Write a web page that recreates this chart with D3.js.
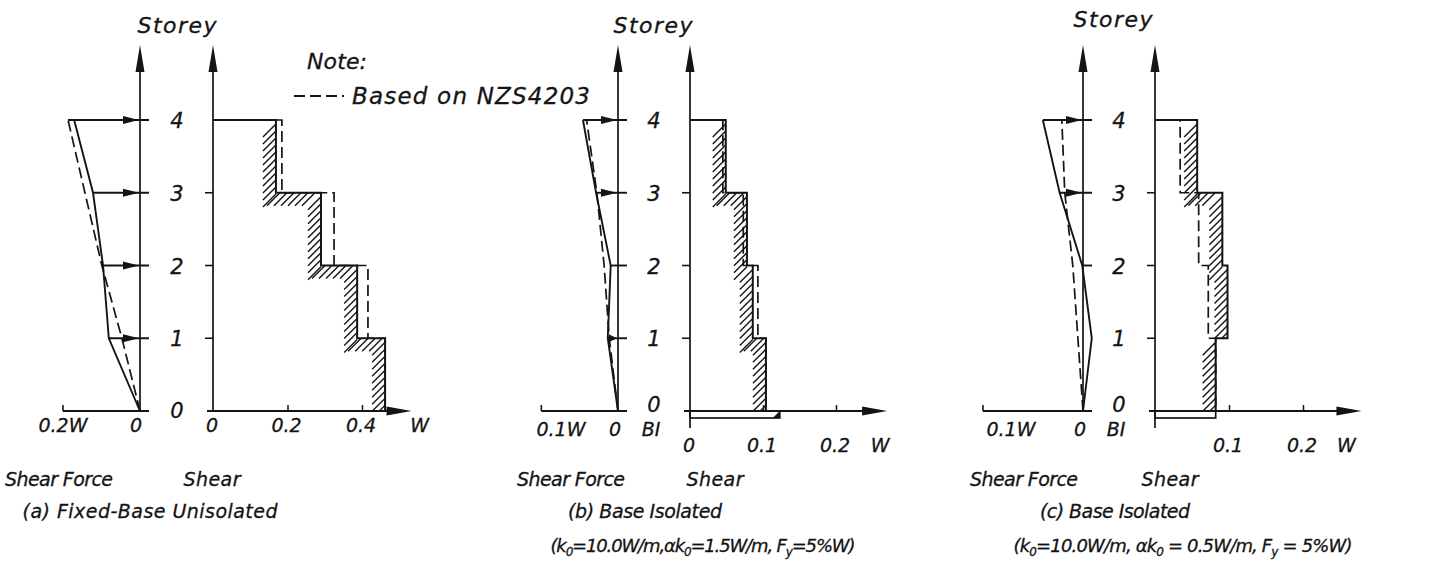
<!DOCTYPE html>
<html><head><meta charset="utf-8">
<script src="https://cdn.jsdelivr.net/npm/d3@7"></script>
<style>
html,body{margin:0;padding:0;background:#fff;}
svg text{font-family:"DejaVu Sans",sans-serif;font-style:italic;fill:#141414;stroke:#141414;stroke-width:0.3;}
</style></head><body>
<svg id="chart" width="1442" height="564"></svg>
<script>
// Storey levels (0 = base)
const storeys = [0, 1, 2, 3, 4];

// Lateral storey forces, fraction of W, at storeys 0..4
const forceFixed      = [0, 0.081, 0.096, 0.122, 0.171];
const forceFixedCode  = [0, 0.047, 0.099, 0.143, 0.187];
const forceIsoA       = [0, 0.014, 0.010, 0.030, 0.048];
const forceIsoACode   = [0, 0.012, 0.019, 0.029, 0.043];
const forceIsoB       = [0, -0.012, 0.001, 0.032, 0.055];
const forceIsoBCode   = [0, 0.007, 0.014, 0.025, 0.029];

// Storey shears, fraction of W, for storeys 1..4
const shearFixed      = [0.462, 0.387, 0.290, 0.169];
const shearFixedCode  = [0.462, 0.416, 0.325, 0.185];
const shearIsoA       = [0.104, 0.086, 0.078, 0.049];
const shearIsoACode   = [0.104, 0.093, 0.073, 0.045];
const shearIsoB       = [0.082, 0.098, 0.091, 0.057];
const shearIsoBCode   = [0.082, 0.072, 0.059, 0.034];

// Base isolator shear, fraction of W
const baseShear = [null, 0.123, 0.082];

// Axis tick values and labels
const forceTicks = [[0.2, 0], [0.1, 0], [0.1, 0]];
const forceTickLabels = [["0.2W", "0"], ["0.1W", "0"], ["0.1W", "0"]];
const shearTicks = [[0, 0.2, 0.4], [0, 0.1, 0.2], [0.1, 0.2]];
const shearTickLabels = [["0", "0.2", "0.4"], ["0", "0.1", "0.2"], ["0.1", "0.2"]];

// Captions
const panelTitles = ["(a) Fixed-Base Unisolated", "(b) Base Isolated", "(c) Base Isolated"];

const svg = d3.select("#chart");
const INK = "#141414";
const LW = 1.9;
const y = d3.scaleLinear().domain([0, 4]).range([411, 120]);

const panels = [
  { f: forceFixed, fc: forceFixedCode, s: shearFixed, sc: shearFixedCode, base: null,
    fAxis: 140, fRange: [0, 0.2], fPx: 77, fMax: 0.2,
    sAxis: 213, sDom: [0, 0.4], sPx: 149, sMax: 0.533, wDx: 8,
    tickY: 432, sTickY: 432, midX: 177, storeyY0: 418, storeyX: 177, storeyTop: 33,
    forceLabelX: [63, 136],
    sfX: 59, shX: 212, ttX: 150, ttLen: 255 },
  { f: forceIsoA, fc: forceIsoACode, s: shearIsoA, sc: shearIsoACode, base: baseShear[1],
    fAxis: 618, fRange: [0, 0.1], fPx: 73, fMax: 0.105,
    sAxis: 690, sDom: [0, 0.2], sPx: 146, sMax: 0.27, wDx: -7,
    tickY: 436, sTickY: 452, midX: 654, storeyY0: 412, storeyX: 653, storeyTop: 33,
    forceLabelX: [561, 615],
    sfX: 571, shX: 715, ttX: 645, ttLen: 154 },
  { f: forceIsoB, fc: forceIsoBCode, s: shearIsoB, sc: shearIsoBCode, base: baseShear[2],
    fAxis: 1083, fRange: [0, 0.1], fPx: 73, fMax: 0.137,
    sAxis: 1155, sDom: [0, 0.2], sPx: 148, sMax: 0.279, wDx: -15,
    tickY: 436, sTickY: 452, midX: 1119, storeyY0: 412, storeyX: 1113, storeyTop: 27,
    forceLabelX: [1011, 1080],
    sfX: 1024, shX: 1170, ttX: 1115, ttLen: 150 }
];

function arrowUp(g, x, yTip) {
  g.append("path").attr("d", `M${x},${yTip} L${x - 4.5},${yTip + 27} L${x + 4.5},${yTip + 27} Z`)
    .attr("fill", INK);
}
function arrowRight(g, xTip, yy, len, hw) {
  g.append("path").attr("d", `M${xTip},${yy} L${xTip - len},${yy - hw} L${xTip - len},${yy + hw} Z`)
    .attr("fill", INK);
}
function label(g, x, yy, size, txt, len) {
  const t = g.append("text").attr("x", x).attr("y", yy).attr("text-anchor", "middle")
    .attr("font-size", size).text(txt);
  if (len) t.attr("textLength", len).attr("lengthAdjust", "spacing");
  return t;
}

panels.forEach((p, pi) => {
  const g = svg.append("g");
  const fx = d3.scaleLinear().domain(p.fRange).range([p.fAxis, p.fAxis - p.fPx]);
  const sx = d3.scaleLinear().domain(p.sDom).range([p.sAxis, p.sAxis + p.sPx]);

  // ---------- storey force profile ----------
  g.append("line").attr("x1", fx(p.fMax)).attr("x2", p.fAxis + 9)
    .attr("y1", y(0)).attr("y2", y(0)).attr("stroke", INK).attr("stroke-width", LW);
  g.append("line").attr("x1", fx(p.fMax)).attr("x2", fx(p.fMax))
    .attr("y1", y(0)).attr("y2", y(0) - 6).attr("stroke", INK).attr("stroke-width", 1.6);
  g.append("line").attr("x1", p.fAxis).attr("x2", p.fAxis).attr("y1", y(0)).attr("y2", 58)
    .attr("stroke", INK).attr("stroke-width", 1.7);
  arrowUp(g, p.fAxis, 45);

  const profile = d3.line().x(d => fx(d[0])).y(d => y(d[1]));
  g.append("path").attr("d", profile(p.f.map((v, i) => [v, storeys[i]])))
    .attr("fill", "none").attr("stroke", INK).attr("stroke-width", LW);
  g.append("path").attr("d", profile(p.fc.map((v, i) => [v, storeys[i]])))
    .attr("fill", "none").attr("stroke", INK).attr("stroke-width", 1.7)
    .attr("stroke-dasharray", "11,5");

  // storey force arrows
  storeys.slice(1).forEach(s => {
    const x0 = s === 4 ? Math.min(fx(p.f[s]), fx(p.fc[s])) : fx(p.f[s]);
    g.append("line").attr("x1", x0).attr("x2", p.fAxis + 9).attr("y1", y(s)).attr("y2", y(s))
      .attr("stroke", INK).attr("stroke-width", LW);
    const len = Math.abs(p.fAxis - fx(p.f[s]));
    if (len > 9) {
      const dir = p.f[s] >= 0 ? 1 : -1;
      const L = Math.min(16, len - 2);
      g.append("path")
        .attr("d", `M${p.fAxis - 1 * dir},${y(s)} L${p.fAxis - (L + 1) * dir},${y(s) - 4} L${p.fAxis - (L + 1) * dir},${y(s) + 4} Z`)
        .attr("fill", INK);
    }
  });

  // force axis labels
  forceTicks[pi].forEach((t, k) => label(g, p.forceLabelX[k], p.tickY, 19, forceTickLabels[pi][k]));
  if (p.base !== null) label(g, p.fAxis + 33, p.tickY, 19, "BI");

  // storey numbers and axis title
  storeys.forEach(s => label(g, p.midX, s === 0 ? p.storeyY0 : y(s) + 8, 21, s));
  label(g, p.storeyX, p.storeyTop, 22, "Storey", 79);

  // ---------- storey shear ----------
  const sAxisBottom = p.base !== null ? y(0) + 17 : y(0);
  g.append("line").attr("x1", p.sAxis).attr("x2", p.sAxis).attr("y1", sAxisBottom).attr("y2", 58)
    .attr("stroke", INK).attr("stroke-width", 1.7);
  arrowUp(g, p.sAxis, 45);
  storeys.slice(1, 4).forEach(s => {
    g.append("line").attr("x1", p.sAxis - 8).attr("x2", p.sAxis).attr("y1", y(s)).attr("y2", y(s))
      .attr("stroke", INK).attr("stroke-width", 1.6);
  });

  // horizontal shear axis with upward ticks
  const xAxis = d3.axisBottom(sx).tickValues(shearTicks[pi].filter(t => t > 0))
    .tickSizeInner(-6).tickSizeOuter(0).tickFormat("");
  const ax = g.append("g").attr("transform", `translate(0,${y(0)})`).call(xAxis);
  ax.select(".domain").remove();
  ax.selectAll(".tick line").attr("stroke", INK).attr("stroke-width", 1.5);
  g.append("line").attr("x1", p.sAxis - 6).attr("x2", sx(p.sMax) - 20).attr("y1", y(0)).attr("y2", y(0))
    .attr("stroke", INK).attr("stroke-width", LW);
  arrowRight(g, sx(p.sMax), y(0), 25, 4.5);
  shearTicks[pi].forEach((t, k) => label(g, sx(t) - 1, p.sTickY, 19, shearTickLabels[pi][k]));
  label(g, sx(p.sMax) + p.wDx, p.sTickY, 19, "W");

  // staircase outline of storey shear
  const stairs = vals => {
    const pts = [[0, 4]];
    for (let s = 4; s >= 1; s--) { pts.push([vals[s - 1], s]); pts.push([vals[s - 1], s - 1]); }
    return pts;
  };
  const stairLine = d3.line().x(d => sx(d[0])).y(d => y(d[1]));
  const solidPts = stairs(p.s);

  // hatching along the inner side of the solid outline
  const clipId = "clip" + pi;
  svg.append("clipPath").attr("id", clipId).append("path")
    .attr("d", stairLine(solidPts.concat([[0, 0]])) + "Z");
  const hatch = g.append("g").attr("clip-path", `url(#${clipId})`);
  const H = 13, STEP = 7;
  for (let s = 4; s >= 1; s--) {
    const xv = sx(p.s[s - 1]);
    for (let yy = y(s) + 4; yy <= y(s - 1) + 2; yy += STEP) {
      hatch.append("line").attr("x1", xv - H).attr("y1", yy + H).attr("x2", xv).attr("y2", yy)
        .attr("stroke", INK).attr("stroke-width", 1.4);
    }
    if (s > 1 && p.s[s - 2] > p.s[s - 1]) {
      const xa = sx(p.s[s - 1]), xb = sx(p.s[s - 2]);
      for (let xx = xa + 4; xx < xb - 2; xx += STEP) {
        hatch.append("line").attr("x1", xx - H).attr("y1", y(s - 1) + H).attr("x2", xx).attr("y2", y(s - 1))
          .attr("stroke", INK).attr("stroke-width", 1.4);
      }
    }
  }

  g.append("path").attr("d", stairLine(solidPts)).attr("fill", "none")
    .attr("stroke", INK).attr("stroke-width", 2);
  g.append("path").attr("d", stairLine(stairs(p.sc))).attr("fill", "none")
    .attr("stroke", INK).attr("stroke-width", 1.7).attr("stroke-dasharray", "11,5");

  // base isolator shear strip
  if (p.base !== null) {
    g.append("rect").attr("x", p.sAxis).attr("y", y(0)).attr("width", sx(p.base) - p.sAxis)
      .attr("height", 7).attr("fill", "none").attr("stroke", INK).attr("stroke-width", 1.7);
    if (p.base > p.s[0] + 0.01) {
      const xe = sx(p.base);
      g.append("path").attr("d", `M${xe - 7},${y(0) + 7} L${xe},${y(0)} L${xe},${y(0) + 7} Z`)
        .attr("fill", INK);
    }
  }

  // captions
  label(g, p.sfX, 486, 19, "Shear Force", 108);
  label(g, p.shX, 486, 19, "Shear", 57);
  label(g, p.ttX, 518, 19, panelTitles[pi], p.ttLen);
});

// parameter lines with subscripts
function paramLine(x, yy, len, parts) {
  const t = svg.append("text").attr("x", x).attr("y", yy).attr("text-anchor", "middle").attr("font-size", 18)
    .attr("textLength", len).attr("lengthAdjust", "spacing");
  parts.forEach(([txt, sub]) => {
    const ts = t.append("tspan").text(txt);
    if (sub) ts.attr("font-size", 12).attr("baseline-shift", "-4");
  });
}
paramLine(703, 552, 305, [["(k"], ["0", 1], ["=10.0W/m,αk"], ["0", 1], ["=1.5W/m, F"], ["y", 1], ["=5%W)"]]);
paramLine(1183, 552, 339, [["(k"], ["0", 1], ["=10.0W/m, αk"], ["0", 1], [" = 0.5W/m, F"], ["y", 1], [" = 5%W)"]]);

// note
svg.append("text").attr("x", 307).attr("y", 69).attr("font-size", 22)
  .attr("textLength", 60).attr("lengthAdjust", "spacing").text("Note:");
svg.append("line").attr("x1", 294).attr("x2", 344).attr("y1", 96).attr("y2", 96)
  .attr("stroke", INK).attr("stroke-width", 1.8).attr("stroke-dasharray", "11,5");
svg.append("text").attr("x", 352).attr("y", 104).attr("font-size", 23)
  .attr("textLength", 238).attr("lengthAdjust", "spacing").text("Based on NZS4203");
</script>
</body></html>
